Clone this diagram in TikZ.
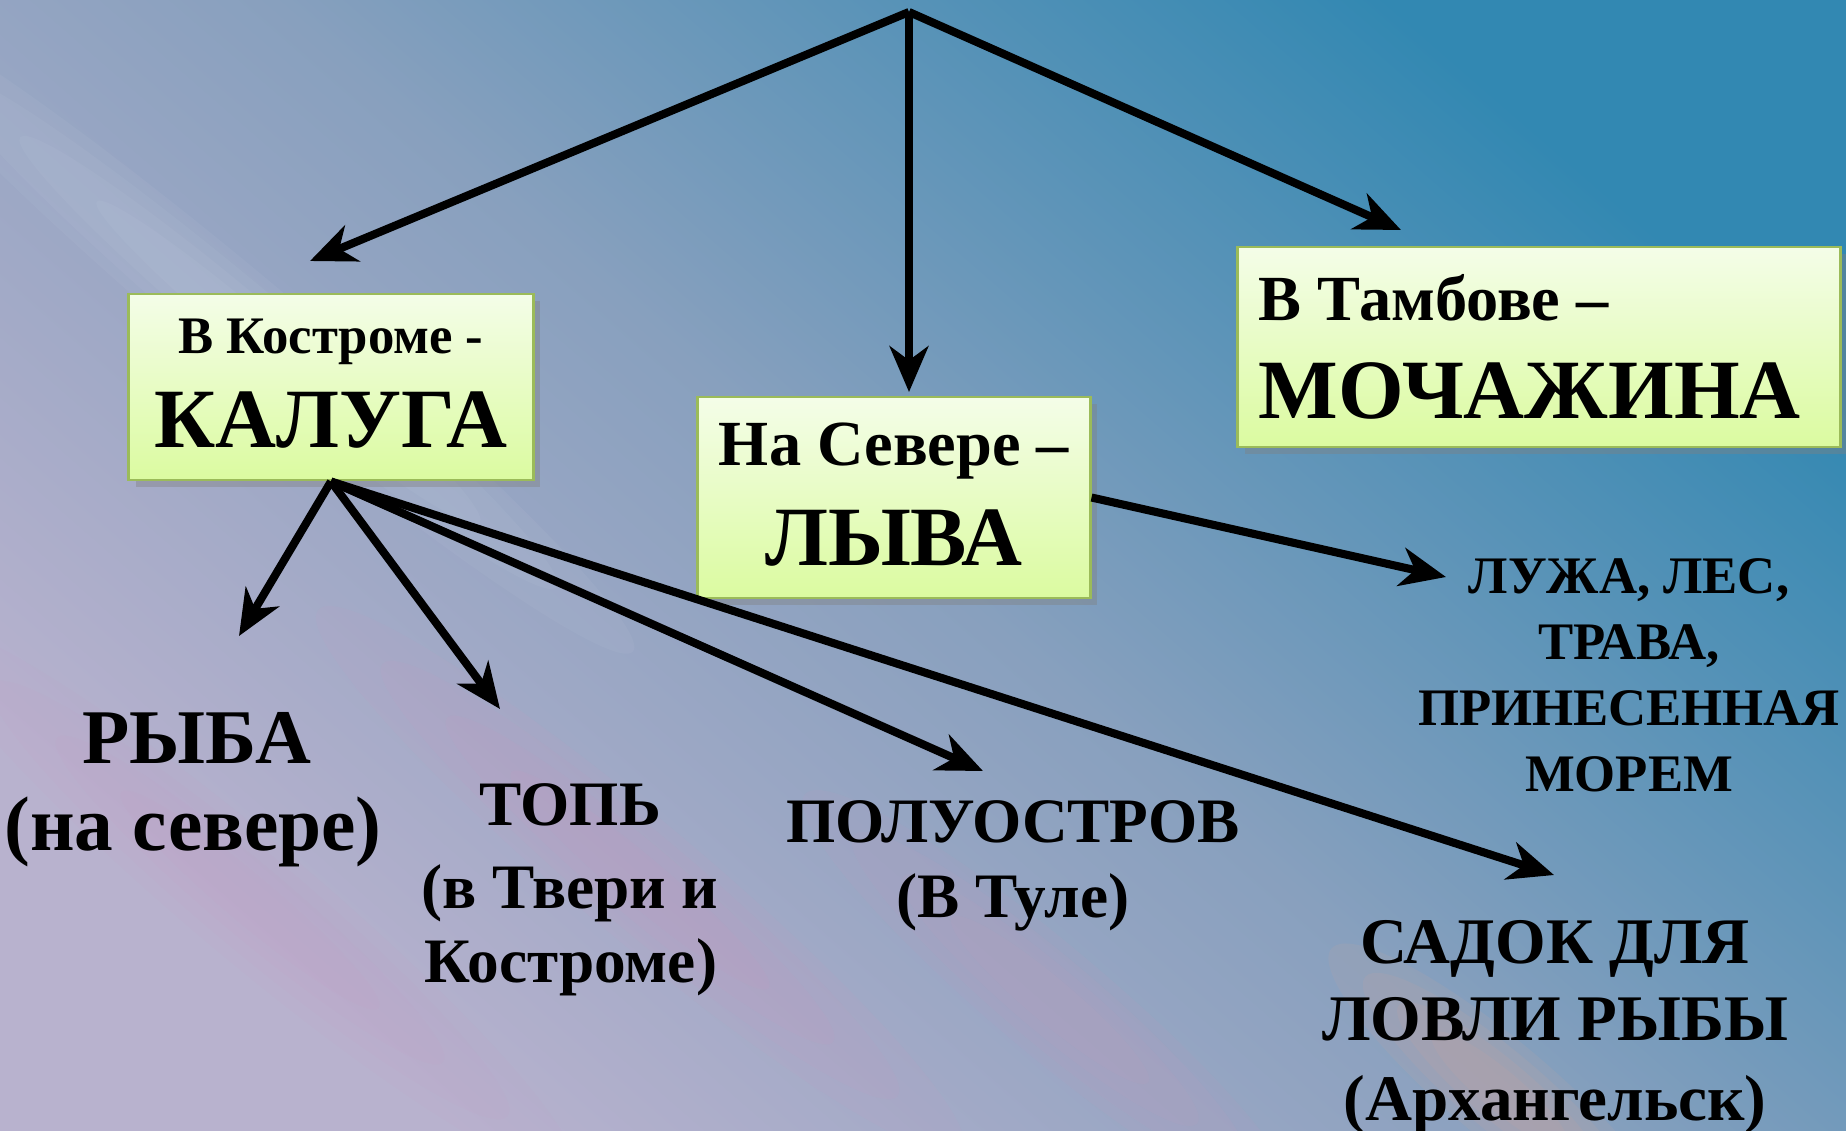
\documentclass[tikz,border=0pt]{standalone}
\usepackage{fontspec}
\setmainfont{Liberation Serif}
\usetikzlibrary{arrows.meta,shadows}
\definecolor{boxtop}{RGB}{244,253,232}
\definecolor{boxbottom}{RGB}{219,251,160}
\definecolor{boxline}{RGB}{155,187,89}
\definecolor{bglav}{RGB}{184,178,206}
\definecolor{bgmid}{RGB}{136,160,190}
\definecolor{bgteal}{RGB}{50,136,178}
\definecolor{bgpink}{RGB}{212,150,190}
\definecolor{bgpeach}{RGB}{226,170,150}
\newcommand{\fhead}{\bfseries\fontsize{15}{18}\selectfont}
\newcommand{\fsub}{\bfseries\fontsize{18.3}{22}\selectfont}
\newcommand{\fbig}{\bfseries\fontsize{24}{29}\selectfont}
\newcommand{\fryba}{\bfseries\fontsize{22}{26}\selectfont}
\newcommand{\fmid}{\bfseries\fontsize{18}{22}\selectfont}
\newcommand{\fsadok}{\bfseries\fontsize{18.5}{22}\selectfont}
\newcommand{\streak}[5]{\foreach \k in {1,0.8,0.6,0.4}
  \fill[#1,opacity=#5,rotate around={-40:(#2)}] (#2) ellipse ({\k*#3} and {\k*#4})}
\newcommand{\wordat}[4]{\node[word,font=#1] (#2) at (#3) {#4}}

\begin{document}
\begin{tikzpicture}[x=0.01cm,y=-0.01cm,
    word/.style={anchor=base,inner sep=0pt,text=black},
    greenbox/.style={draw=boxline,line width=0.8pt,top color=boxtop,bottom color=boxbottom,
      drop shadow={opacity=0.4,shadow xshift=2pt,shadow yshift=-2pt},inner sep=0pt},
    arr/.style={-{Stealth[length=13pt,width=11pt,inset=4pt]},line width=2.3pt,black}]
  \useasboundingbox (0,0) rectangle (1846,1130);

  % background canvas
  \begin{scope}
    \clip (0,0) rectangle (1846,1130);
    \fill[bgmid] (0,0) rectangle (1846,1130);
    \shade[top color=bgteal,bottom color=bglav,middle color=bgmid,shading angle=-41]
      (0,0) rectangle (1846,1130);
    \streak{white}{250,330}{500}{50}{0.04};
    \streak{bgpink}{250,900}{420}{60}{0.06};
    \streak{bgpink}{640,880}{420}{60}{0.08};
    \streak{bgpink}{1050,1000}{320}{55}{0.07};
    \streak{bgpeach}{1500,1090}{220}{50}{0.1};
  \end{scope}

  % arrow ends
  \coordinate (apex) at (909,12);
  \coordinate (tipL) at (310,261);
  \coordinate (tipD) at (909,392);
  \coordinate (tipR) at (1401,230);
  \coordinate (rybaTip) at (239,636);
  \coordinate (topTip) at (500,709);
  \coordinate (poluTip) at (983,771);
  \coordinate (sadokTip) at (1554,875);
  \coordinate (luzhaTip) at (1446,577);

  % boxes
  \node[greenbox,minimum width=4.04cm,minimum height=1.86cm] (kaluga) at (331,387) {};
  \node[greenbox,minimum width=3.92cm,minimum height=2.01cm] (lyva) at (894,497.5) {};
  \node[greenbox,minimum width=6.02cm,minimum height=2.00cm] (mochazhina) at (1539,347) {};

  \draw[arr] (apex) -- (tipL);
  \draw[arr] (apex) -- (tipD);
  \draw[arr] (apex) -- (tipR);
  \draw[arr] (kaluga.south) -- (rybaTip);
  \draw[arr] (kaluga.south) -- (topTip);
  \draw[arr] (kaluga.south) -- (poluTip);
  \draw[arr] (kaluga.south) -- (sadokTip);
  \draw[arr] (lyva.east) -- (luzhaTip);

  % box texts
  \wordat{\fhead}{kalugaA}{331,353}{В Костроме -};
  \wordat{\fbig}{kalugaB}{331,447}{КАЛУГА};
  \wordat{\fsub}{lyvaA}{894,465}{На Севере –};
  \wordat{\fbig}{lyvaB}{894,565}{ЛЫВА};
  \node[word,anchor=base west,font=\fsub] (mochA) at (1258,320) {В Тамбове –};
  \node[word,anchor=base west,font=\fbig] (mochB) at (1258,418) {МОЧАЖИНА};

  % free texts
  \wordat{\fryba}{rybaA}{197,763}{РЫБА};
  \wordat{\fryba}{rybaB}{193,850}{(на севере)};
  \wordat{\fmid}{topA}{570,825}{ТОПЬ};
  \wordat{\fmid}{topB}{570,908}{(в Твери и};
  \wordat{\fmid}{topC}{571,982}{Костроме)};
  \wordat{\fmid}{poluA}{1013,842}{ПОЛУОСТРОВ};
  \wordat{\fmid}{poluB}{1013,917}{(В Туле)};
  \wordat{\fhead}{luzhaA}{1629,593}{ЛУЖА, ЛЕС,};
  \wordat{\fhead}{luzhaB}{1629,659}{ТРАВА,};
  \wordat{\fhead}{luzhaC}{1629,725}{ПРИНЕСЕННАЯ};
  \wordat{\fhead}{luzhaD}{1629,791}{МОРЕМ};
  \wordat{\fsadok}{sadokA}{1555,963}{САДОК ДЛЯ};
  \wordat{\fsadok}{sadokB}{1555,1040}{ЛОВЛИ РЫБЫ};
  \wordat{\fsadok}{sadokC}{1555,1120}{(Архангельск)};
\end{tikzpicture}
\end{document}
